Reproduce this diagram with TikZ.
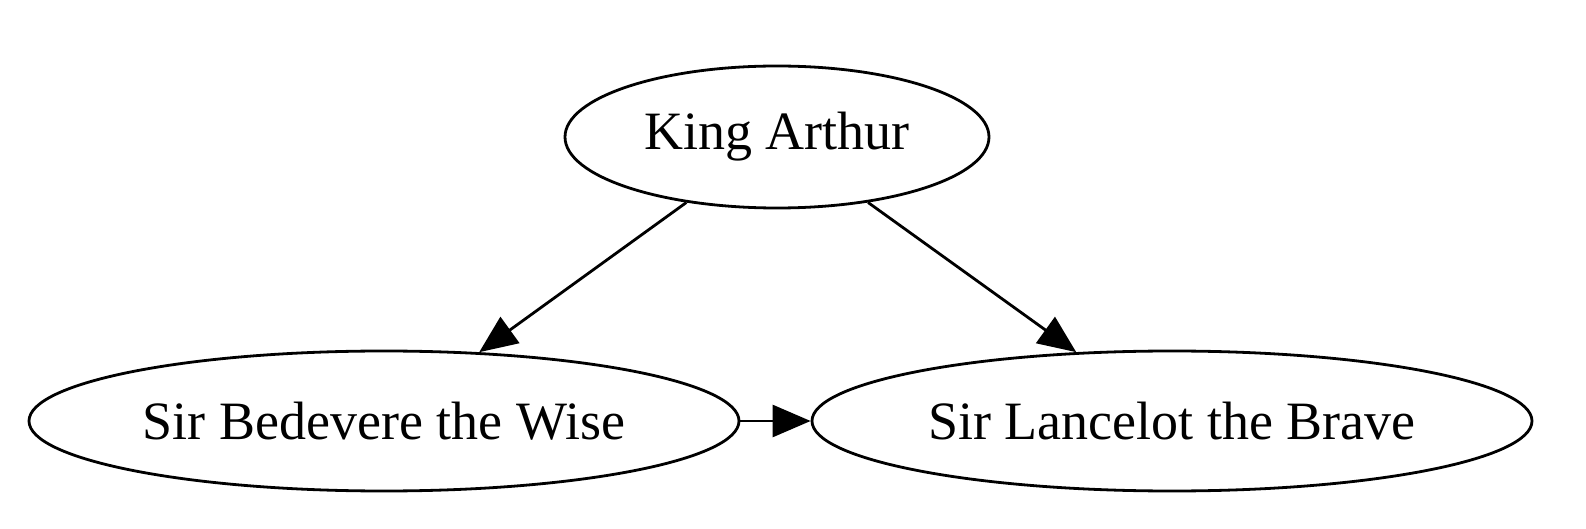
\documentclass[tikz,border=0pt]{standalone}
\usepackage{fontspec}
\setmainfont{Liberation Serif}
\usetikzlibrary{shapes.geometric,arrows.meta}
\begin{document}
\begin{tikzpicture}[x=0.5pt,y=-0.5pt,
  knight/.style={draw,ellipse,line width=1.4pt,inner sep=0pt,font=\fontsize{27}{31}\selectfont},
  edge/.style={line width=1.4pt,-{Triangle[length=19pt,width=16pt]}}]
\useasboundingbox (0,0) rectangle (1586,529);
\node[knight,minimum width=212pt,minimum height=71pt] (king) at (777,137) {King Arthur};
\node[knight,minimum width=355pt,minimum height=70pt] (bed) at (384,421) {Sir Bedevere the Wise};
\node[knight,minimum width=360pt,minimum height=70pt] (lan) at (1172,421) {Sir Lancelot the Brave};
\draw[edge] (king) -- (bed);
\draw[edge] (king) -- (lan);
\draw[edge] (bed) -- (lan);
\end{tikzpicture}
\end{document}
